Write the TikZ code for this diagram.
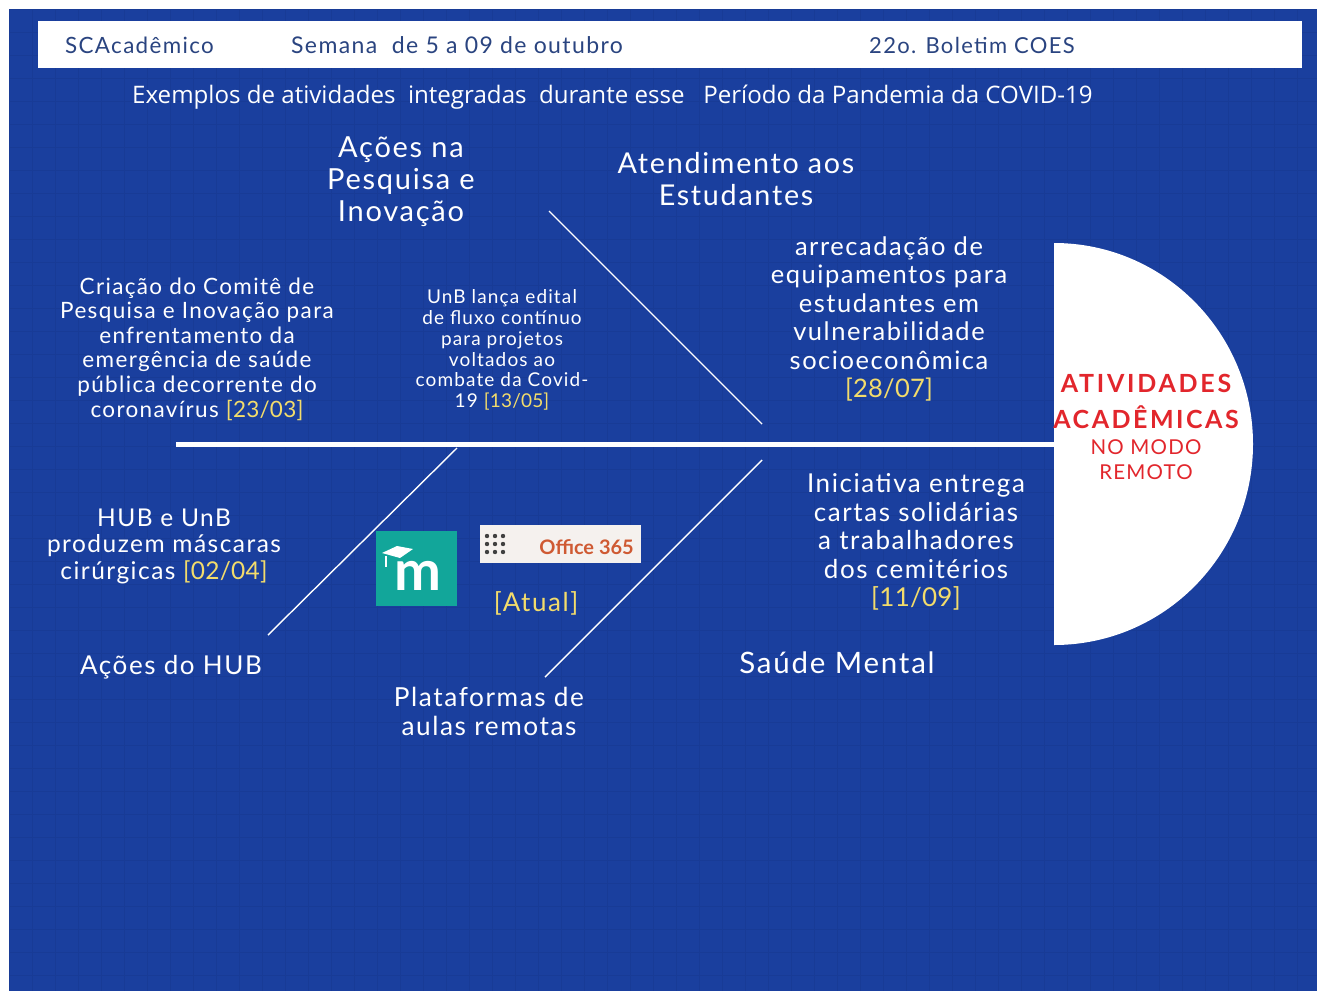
\documentclass[tikz,border=0pt]{standalone}
\usepackage{fontspec}
\setmainfont{Lato}
\newfontfamily\opens{Open Sans}
\newfontfamily\spaced[LetterSpace=6]{Lato}
\definecolor{bgblue}{HTML}{1A3F9E}
\definecolor{gridblue}{HTML}{183B96}
\definecolor{darkblue}{HTML}{2A4480}
\definecolor{dateyellow}{HTML}{F3DC6B}
\definecolor{redtxt}{HTML}{E2262C}
\definecolor{teal}{HTML}{12A69A}
\definecolor{offbg}{HTML}{F5F1EE}
\definecolor{offtxt}{HTML}{CF5A33}
\newcommand{\fs}[2]{\spaced\fontsize{#1}{#2}\selectfont}
\newcommand{\dt}[1]{\textcolor{dateyellow}{\addfontfeature{LetterSpace=1}#1}}
\tikzset{
 x=1pt,y=-1pt,
 lbl/.style={align=center,text=white,inner sep=0pt},
 bone/.style={draw=white,line width=1.4pt},
 head/.style={align=center,inner sep=0pt,text=darkblue,anchor=west},
 redl/.style={inner sep=0pt,text=redtxt,align=center},
}
\begin{document}
\begin{tikzpicture}
\useasboundingbox (0,0) rectangle (1317,991);
\fill[white] (0,0) rectangle (1317,991);
\fill[bgblue] (9,9) rectangle (1317,991);
\begin{scope}
\clip (9,9) rectangle (1317,991);
\foreach \i in {0,...,57} {\draw[gridblue,line width=0.7pt] (9+23*\i,9) -- (9+23*\i,991);}
\foreach \i in {0,...,43} {\draw[gridblue,line width=0.7pt] (9,9+23*\i) -- (1317,9+23*\i);}
\end{scope}
% header
\fill[white] (38,21) rectangle (1302,68);
\node[head,font=\fs{22.4}{26}] (sc) at (65,45) {SCAcadêmico};
\node[head,font=\fs{23}{26}] (sem) at (291,45) {Semana\ \ de 5 a 09 de outubro};
\node[head,font=\fs{22}{26}] (bol) at (869,45) {22o. Boletim COES};
\node[text=white,inner sep=0pt,anchor=west,font=\opens\fontsize{24.1}{28}\selectfont] (ex) at (132,97) {Exemplos de atividades\ \ integradas\ \ durante esse\ \ \ Período da Pandemia da COVID-19};
% spine and head
\coordinate (spineL) at (176,444);
\coordinate (spineR) at (1054,444);
\draw[white,line width=5pt] (spineL) -- (spineR);
\fill[white] (1054,243) arc[start angle=-90,end angle=90,x radius=199,y radius=201] -- cycle;
% bones
\coordinate (b1a) at (549,211); \coordinate (b1b) at (762,424);
\coordinate (b2a) at (457,448); \coordinate (b2b) at (268,635);
\coordinate (b3a) at (762,460); \coordinate (b3b) at (545,677);
\draw[bone] (b1a) -- (b1b);
\draw[bone] (b2a) -- (b2b);
\draw[bone] (b3a) -- (b3b);
% headings
\node[lbl,font=\fs{29}{32}] (pesq) at (401,182) {Ações na\\Pesquisa e\\Inovação};
\node[lbl,font=\fs{28.7}{32}] (atend) at (736,179) {Atendimento aos\\Estudantes};
\node[lbl,font=\fs{26}{30}] (hub) at (171,667) {Ações do HUB};
\node[lbl,font=\fs{26.2}{29}] (plat) at (489,711) {Plataformas de\\aulas remotas};
\node[lbl,font=\fs{29.5}{32}] (saude) at (837,663) {Saúde Mental};
% items
\node[lbl,font=\fs{22.5}{24.6}] (t1) at (197,349) {Criação do Comitê de\\Pesquisa e Inovação para\\enfrentamento da\\emergência de saúde\\pública decorrente do\\coronavírus \dt{[23/03]}};
\node[lbl,font=\fs{19}{20.8}] (t2) at (502,350) {UnB lança edital\\de fluxo contínuo\\para projetos\\voltados ao\\combate da Covid-\\19 \dt{[13/05]}};
\node[lbl,font=\fs{25.5}{28.4}] (t3) at (889,319) {arrecadação de\\equipamentos para\\estudantes em\\vulnerabilidade\\socioeconômica\\\dt{[28/07]}};
\node[lbl,font=\fs{24.5}{26.5}] (t4) at (164,546) {HUB e UnB\\produzem máscaras\\cirúrgicas \dt{[02/04]}};
\node[lbl,font=\fs{26}{28.4}] (t5) at (916,542) {Iniciativa entrega\\cartas solidárias\\a trabalhadores\\dos cemitérios\\\dt{[11/09]}};
% center text
\node[redl,font=\fs{25}{28}\addfontfeature{LetterSpace=11}\bfseries] (a1) at (1146,383) {ATIVIDADES};
\node[redl,font=\fs{25}{28}\addfontfeature{LetterSpace=10}\bfseries] (a2) at (1146,417) {ACADÊMICAS};
\node[redl,font=\fs{20.5}{25}\addfontfeature{LetterSpace=6}] (a3) at (1146,460) {NO MODO\\REMOTO};
% logos
\fill[teal] (376,531) rectangle (457,606);
\node[inner sep=0pt,text=white,font=\fontsize{56}{56}\selectfont\bfseries] (mood) at (418,576) {m};
\fill[white] (382,553) -- (397,546) -- (413,549) -- (400,558) -- cycle;
\fill[white] (384.5,556) rectangle (386.5,567);
\fill[offbg] (480,525) rectangle (641,563);
\foreach \i in {0,1,2} {\foreach \j in {0,1,2} {\fill[black!75] (487+8*\i,536+8*\j) circle (2.2);}}
\node[inner sep=0pt,text=offtxt,anchor=east,font=\fontsize{20}{24}\selectfont\bfseries] (off) at (634,547) {Office 365};
\node[lbl,text=dateyellow,font=\fs{26}{30}] (atual) at (536,603) {[Atual]};
\end{tikzpicture}
\end{document}
